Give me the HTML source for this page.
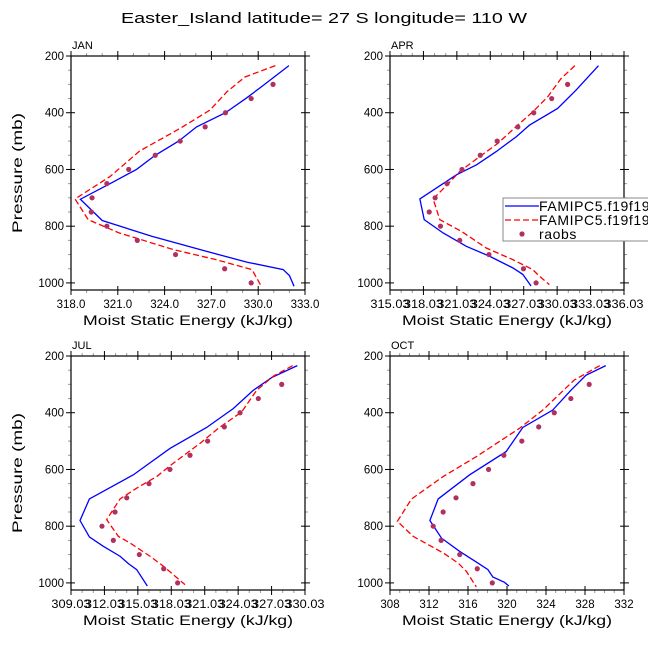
<!DOCTYPE html>
<html><head><meta charset="utf-8"><style>
body{margin:0;background:#fff;}
svg{display:block;font-family:"Liberation Sans",sans-serif;}
</style></head><body>
<svg id="c" width="648" height="649" viewBox="0 0 648 649">
<text x="324" y="23" text-anchor="middle" font-size="15" textLength="406" lengthAdjust="spacingAndGlyphs">Easter_Island  latitude= 27 S longitude= 110 W</text>
</svg>
<script>
// ---------- data ----------
const obsP = [300,350,400,450,500,550,600,650,700,750,800,850,900,950,1000];

const janBlueP = [234,309,350,400,450,500,550,600,650,705,780,836,889,927,953,974,1012];
const janBlueX = [331.97,330.2,329.2,327.9,326.05,324.9,323.4,322.2,320.5,318.6,320.0,323.2,326.7,329.3,331.6,332.0,332.3];
const janRedP = [234,274,326,391,455,535,625,704,777,824,883,918,953,1012];
const janRedX = [331.1,329.15,328.0,326.9,325.0,322.4,320.5,318.26,319.1,321.1,324.6,327.3,329.6,330.2];
const janObs = [330.95,329.55,327.9,326.6,325.0,323.4,321.7,320.3,319.35,319.3,320.3,322.25,324.7,327.85,329.55];

const aprBlueP = [234,321,385,444,485,537,584,619,704,777,824,871,906,947,970,1011];
const aprBlueX = [333.71,331.68,330.04,327.51,326.32,324.53,322.75,320.96,317.68,318.07,319.77,321.85,323.94,326.02,326.92,327.66];
const aprRedP = [234,280,344,397,449,508,555,607,651,704,777,818,877,918,953,976,1006];
const aprRedX = [331.59,330.34,329.15,327.81,326.32,324.68,323.04,321.26,320.21,318.87,319.47,321.40,323.64,326.02,327.81,328.40,329.30];
const aprObs = [330.94,329.51,327.90,326.47,324.62,323.10,321.46,320.12,319.05,318.52,319.53,321.26,323.88,326.98,328.11];

const julBlueP = [234,276,321,385,452,526,619,704,780,838,871,906,932,953,1011];
const julBlueX = [329.31,327.01,325.36,323.57,321.17,317.88,314.59,310.65,309.81,310.65,311.90,313.40,314.15,314.89,315.85];
const julRedP = [234,271,321,397,455,508,578,625,666,704,777,836,859,906,941,976,1006];
const julRedX = [328.89,327.16,325.66,324.32,322.22,320.58,318.18,316.69,314.89,313.40,312.20,313.25,314.29,316.09,317.29,318.33,319.23];
const julObs = [327.91,325.81,324.17,322.76,321.26,319.68,317.88,316.0,314.0,312.95,311.78,312.80,315.13,317.32,318.57];

const octBlueP = [234,268,321,391,452,537,619,704,780,842,889,930,953,979,998,1011];
const octBlueX = [330.13,328.09,326.55,324.68,321.62,319.91,316.17,312.94,312.09,313.28,315.15,317.02,318.04,318.55,319.74,320.19];
const octRedP = [234,285,391,455,555,625,704,783,836,894,930,959,1014];
const octRedX = [329.51,326.89,323.66,321.28,316.85,313.45,310.21,308.75,310.38,313.45,314.98,315.83,316.85];
const octObs = [328.43,326.55,324.85,323.25,321.52,319.68,318.11,316.51,314.77,313.45,312.43,313.24,315.15,316.95,318.49];

const yTicks = [200,400,600,800,1000];
const janTicks = ["318.0","321.0","324.0","327.0","330.0","333.0"];
const aprTicks = ["315.03","318.03","321.03","324.03","327.03","330.03","333.03","336.03"];
const julTicks = ["309.03","312.03","315.03","318.03","321.03","324.03","327.03","330.03"];
const octTicks = ["308","312","316","320","324","328","332"];
const legendLabels = ["FAMIPC5.f19f19.","FAMIPC5.f19f19.","raobs"];

// ---------- drawing ----------
const NS = "http://www.w3.org/2000/svg";
const svg = document.getElementById('c');
function mk(tag, attrs, parent){
  const e = document.createElementNS(NS, tag);
  for (const k in attrs) e.setAttribute(k, attrs[k]);
  (parent||svg).appendChild(e);
  return e;
}
const panels = [
  {name:"jan", label:"JAN", x0:71, y0:56, xmin:318, xmax:333, step:3, minor:1, ticks:janTicks, bp:janBlueP, bx:janBlueX, rp:janRedP, rx:janRedX, obs:janObs, fit:false},
  {name:"apr", label:"APR", x0:390, y0:56, xmin:315.03, xmax:336.03, step:3, minor:1, ticks:aprTicks, bp:aprBlueP, bx:aprBlueX, rp:aprRedP, rx:aprRedX, obs:aprObs, fit:true, off:0.03},
  {name:"jul", label:"JUL", x0:71, y0:356, xmin:309.03, xmax:330.03, step:3, minor:1, ticks:julTicks, bp:julBlueP, bx:julBlueX, rp:julRedP, rx:julRedX, obs:julObs, fit:true, off:0.03},
  {name:"oct", label:"OCT", x0:390, y0:356, xmin:308, xmax:332, step:4, minor:1, ticks:octTicks, bp:octBlueP, bx:octBlueX, rp:octRedP, rx:octRedX, obs:octObs, fit:false}
];
const W = 234, H = 234, PMIN = 200, PMAX = 1025;
panels.forEach(p => {
  const off = p.off || 0;
  const g = mk('g', {});
  
  
  const X = v => p.x0 + (v + off - p.xmin) / (p.xmax - p.xmin) * W;
  const Y = v => p.y0 + (v - PMIN) / (PMAX - PMIN) * H;
  for (let v = 200; v <= 1000; v += 50) {
    const maj = v % 200 === 0;
    const l = maj ? 5 : 3;
    mk('line', {x1:p.x0 - l, x2:p.x0 + (maj?4:0), y1:Y(v), y2:Y(v), stroke: maj?'#000':'#999', 'stroke-width':1}, g);
    mk('line', {x1:p.x0 + W - (maj?4:0), x2:p.x0 + W + l, y1:Y(v), y2:Y(v), stroke: maj?'#000':'#999', 'stroke-width':1}, g);
  }
  yTicks.forEach(v => {
    const t = mk('text', {x:p.x0 - 7, y:Y(v) + 4, 'text-anchor':'end', 'font-size':11.5}, g);
    t.textContent = v;
    
    
  });
  const nMaj = p.ticks.length;
  for (let i = 0; i < nMaj; i++) {
    const v = p.xmin + i * p.step - off;
    const xx = X(v);
    mk('line', {x1:xx, x2:xx, y1:p.y0 - 5, y2:p.y0 + 4, stroke:'#000'}, g);
    mk('line', {x1:xx, x2:xx, y1:p.y0 + H - 4, y2:p.y0 + H + 5, stroke:'#000'}, g);
    if (i < nMaj - 1) {
      for (let m = p.minor; m < p.step; m += p.minor) {
        const mx = X(v + m);
        mk('line', {x1:mx, x2:mx, y1:p.y0 - 3, y2:p.y0, stroke:'#999'}, g);
        mk('line', {x1:mx, x2:mx, y1:p.y0 + H, y2:p.y0 + H + 3, stroke:'#999'}, g);
      }
    }
    const t = mk('text', {x:xx, y:p.y0 + H + 18, 'text-anchor':'middle', 'font-size':11.5}, g);
    if (p.fit) { t.setAttribute('textLength', (W / (nMaj - 1)) * 1.17); t.setAttribute('lengthAdjust','spacingAndGlyphs'); }
    t.textContent = p.ticks[i];
    
    
  }
  mk('rect', {x:p.x0, y:p.y0, width:W, height:H, fill:'none', stroke:'#000', 'stroke-width':1.2}, g);
  const lab = mk('text', {x:p.x0 + 1, y:p.y0 - 7, 'font-size':11}, g);
  lab.textContent = p.label;
  
  
  const xt = mk('text', {x:p.x0 + W/2, y:p.y0 + H + 35, 'text-anchor':'middle', 'font-size':13.5, textLength:210, lengthAdjust:'spacingAndGlyphs'}, g);
  xt.textContent = 'Moist Static Energy (kJ/kg)';
  
  
  if (p.x0 < 200) {
    const cy = p.y0 + H/2;
    const yt = mk('text', {x:22, y:cy, 'text-anchor':'middle', 'font-size':13.5, textLength:120, lengthAdjust:'spacingAndGlyphs', transform:'rotate(-90 22 ' + cy + ')'}, g);
    yt.textContent = 'Pressure (mb)';
    
    
  }
  const bl = mk('polyline', {points: p.bp.map((v,i)=>X(p.bx[i])+','+Y(v)).join(' '), fill:'none', stroke:'#0000ff', 'stroke-width':1.3}, g);
  
  
  const rl = mk('polyline', {points: p.rp.map((v,i)=>X(p.rx[i])+','+Y(v)).join(' '), fill:'none', stroke:'#ff0000', 'stroke-width':1.3, 'stroke-dasharray':'6,3'}, g);
  
  
  obsP.forEach((v,i) => {
    const c = mk('circle', {cx:X(p.obs[i]), cy:Y(v), r:2.6, fill:'#b03060'}, g);
    
    
  });
});
const lg = mk('g', {});


mk('rect', {x:503, y:198, width:150, height:43, fill:'#fff', stroke:'#888', 'stroke-width':1}, lg);
const lys = [206, 220, 234];
legendLabels.forEach((s, i) => {
  const y = lys[i];
  if (i === 0) mk('line', {x1:505, x2:539, y1:y, y2:y, stroke:'#0000ff', 'stroke-width':1.3}, lg);
  if (i === 1) mk('line', {x1:505, x2:539, y1:y, y2:y, stroke:'#ff0000', 'stroke-width':1.3, 'stroke-dasharray':'6,3'}, lg);
  if (i === 2) mk('circle', {cx:522, cy:y, r:2.6, fill:'#b03060'}, lg);
  const t = mk('text', {x:539, y:y + 5, 'font-size':14, 'letter-spacing':'0.6'}, lg);
  t.textContent = s;
  
  
});
</script>
</body></html>
